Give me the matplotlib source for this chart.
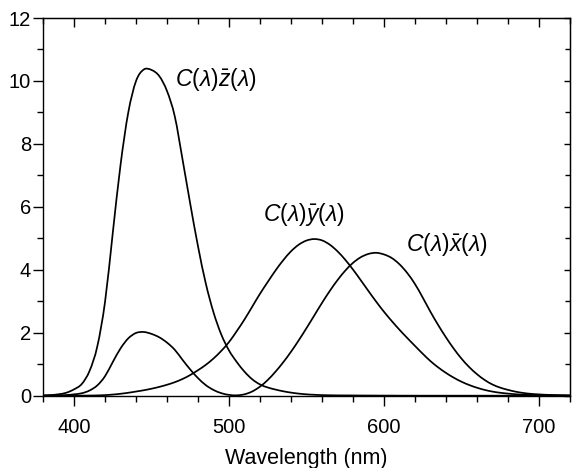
import numpy as np
import matplotlib
matplotlib.use('Agg')
import matplotlib.pyplot as plt
from matplotlib.path import Path
from matplotlib.patches import PathPatch
from matplotlib.ticker import MultipleLocator

# wavelength grid (nm) and the three weighted colour-matching curves
wavelength = np.arange(380, 725, 5)

cz = [0.010, 0.020, 0.045, 0.094, 0.202, 0.373, 0.787, 1.566, 2.983, 5.178,
      7.335, 9.001, 9.998, 10.364, 10.349, 10.154, 9.678, 8.874, 7.508, 6.090,
      4.744, 3.568, 2.645, 1.945, 1.436, 1.070, 0.762, 0.520, 0.357, 0.261,
      0.195, 0.140, 0.098, 0.066, 0.043, 0.029, 0.019, 0.014, 0.010, 0.009,
      0.008, 0.006, 0.005, 0.004, 0.003, 0.003, 0.001, 0.001, 0.001, 0.0,
      0.0, 0.0, 0.0, 0.0, 0.0, 0.0, 0.0, 0.0, 0.0, 0.0,
      0.0, 0.0, 0.0, 0.0, 0.0, 0.0, 0.0, 0.0, 0.0]

cy = [0.0001, 0.0001, 0.0003, 0.0006, 0.001, 0.002, 0.005, 0.009, 0.019, 0.036,
      0.061, 0.093, 0.132, 0.173, 0.222, 0.280, 0.348, 0.429, 0.531, 0.658,
      0.811, 0.980, 1.183, 1.424, 1.705, 2.052, 2.424, 2.831, 3.240, 3.615,
      3.979, 4.306, 4.588, 4.799, 4.930, 4.977, 4.935, 4.799, 4.587, 4.318,
      4.007, 3.669, 3.323, 2.985, 2.666, 2.372, 2.094, 1.833, 1.581, 1.332,
      1.098, 0.898, 0.724, 0.573, 0.444, 0.339, 0.253, 0.183, 0.130, 0.093,
      0.067, 0.046, 0.031, 0.021, 0.015, 0.010, 0.007, 0.005, 0.003]

cx = [0.002, 0.004, 0.010, 0.020, 0.043, 0.078, 0.165, 0.327, 0.621, 1.070,
      1.503, 1.822, 1.993, 2.024, 1.963, 1.855, 1.686, 1.458, 1.139, 0.831,
      0.558, 0.336, 0.182, 0.081, 0.026, 0.012, 0.045, 0.135, 0.289, 0.500,
      0.764, 1.063, 1.397, 1.761, 2.148, 2.548, 2.949, 3.327, 3.672, 3.974,
      4.221, 4.399, 4.505, 4.540, 4.488, 4.375, 4.175, 3.898, 3.546, 3.117,
      2.663, 2.242, 1.852, 1.495, 1.178, 0.908, 0.683, 0.498, 0.355, 0.256,
      0.185, 0.127, 0.086, 0.058, 0.041, 0.028, 0.020, 0.014, 0.009]

plt.rcParams['font.family'] = ['Liberation Sans', 'DejaVu Sans']
plt.rcParams['mathtext.fontset'] = 'custom'
plt.rcParams['mathtext.it'] = 'Liberation Sans:italic'
plt.rcParams['mathtext.rm'] = 'Liberation Sans'


def smooth_path(x, y):
    # bezier segments through the points (catmull-rom), so the curve is drawn round
    pts = np.column_stack([x, y]).astype(float)
    ext = np.vstack([pts[0], pts, pts[-1]])
    verts = [pts[0]]
    codes = [Path.MOVETO]
    for i in range(len(pts) - 1):
        p0, p1, p2, p3 = ext[i], ext[i + 1], ext[i + 2], ext[i + 3]
        verts += [p1 + (p2 - p0) / 6, p2 - (p3 - p1) / 6, p2]
        codes += [Path.CURVE4] * 3
    return Path(verts, codes)


fig = plt.figure(figsize=(5.74, 4.68), dpi=100)
ax = fig.add_axes([0.075, 0.1545, 0.918, 0.807])

for curve in (cz, cy, cx):
    ax.add_patch(PathPatch(smooth_path(wavelength, curve), facecolor='none',
                           edgecolor='black', lw=1.25))

ax.set_xlim(380, 720)
ax.set_ylim(0, 12)
ax.xaxis.set_major_locator(MultipleLocator(100))
ax.xaxis.set_minor_locator(MultipleLocator(20))
ax.yaxis.set_major_locator(MultipleLocator(2))
ax.yaxis.set_minor_locator(MultipleLocator(1))

ax.tick_params(axis='both', which='both', direction='out', top=False, right=False,
               width=1, labelsize=14.5)
ax.tick_params(axis='x', which='major', length=7, pad=9)
ax.tick_params(axis='x', which='minor', length=4)
ax.tick_params(axis='y', which='major', length=7, pad=1.5)
ax.tick_params(axis='y', which='minor', length=4)

# inward ticks on top and right
top = ax.secondary_xaxis('top')
top.xaxis.set_major_locator(MultipleLocator(100))
top.xaxis.set_minor_locator(MultipleLocator(20))
top.tick_params(which='both', direction='in', labeltop=False, width=1)
top.tick_params(which='major', length=6.5)
top.tick_params(which='minor', length=4.3)

right = ax.secondary_yaxis('right')
right.yaxis.set_major_locator(MultipleLocator(2))
right.yaxis.set_minor_locator(MultipleLocator(1))
right.tick_params(which='both', direction='in', labelright=False, width=1)
right.tick_params(which='major', length=4.5)
right.tick_params(which='minor', length=3.6)

for sp in ax.spines.values():
    sp.set_linewidth(1)

ax.set_xlabel('Wavelength (nm)', fontsize=15.5, labelpad=8)

ax.text(465, 10.05, r'$C(\lambda)\bar{z}(\lambda)$', fontsize=16.5, va='center', ha='left')
ax.text(522, 5.75, r'$C(\lambda)\bar{y}(\lambda)$', fontsize=16.5, va='center', ha='left')
ax.text(614, 4.8, r'$C(\lambda)\bar{x}(\lambda)$', fontsize=16.5, va='center', ha='left')

fig.savefig('out.png', dpi=100)
